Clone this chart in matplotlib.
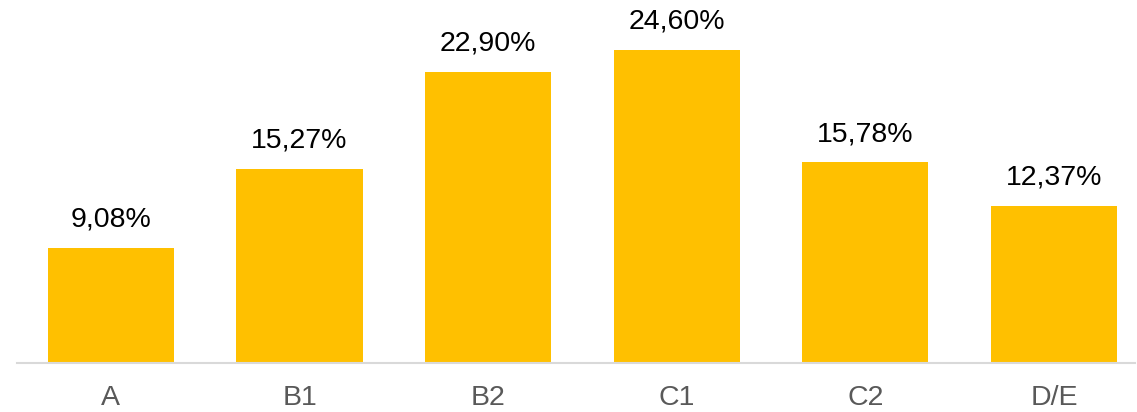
import matplotlib
matplotlib.use("Agg")
import matplotlib.pyplot as plt

plt.rcParams['font.family'] = ['Liberation Sans', 'DejaVu Sans']

levels = ['A', 'B1', 'B2', 'C1', 'C2', 'D/E']
shares = [9.08, 15.27, 22.90, 24.60, 15.78, 12.37]
labels = ['9,08%', '15,27%', '22,90%', '24,60%', '15,78%', '12,37%']

W, H = 1137, 412
fig = plt.figure(figsize=(W / 100, H / 100), dpi=100)
# axes placed in pixel terms: baseline at y=363, left edge at x=17
ax = fig.add_axes([17 / W, (H - 363) / H, (1135 - 17) / W, 363 / H])

x = list(range(len(levels)))
bars = ax.bar(x, shares, width=0.67, color='#FFC000', zorder=2)

for b, lab in zip(bars, labels):
    ax.annotate(lab, (b.get_x() + b.get_width() / 2, b.get_height()),
                xytext=(0, 11), textcoords='offset points',
                ha='center', va='bottom', fontsize=20.5, color='black')

ax.set_xlim(-0.498, 5.43)
ax.set_ylim(0, 363 / 12.72)
ax.set_xticks(x)
ax.set_xticklabels(levels, fontsize=20.5, color='#595959')
ax.tick_params(axis='x', length=0, pad=16)
ax.set_yticks([])
for s in ['top', 'right', 'left']:
    ax.spines[s].set_visible(False)
ax.spines['bottom'].set_color('#d9d9d9')
ax.spines['bottom'].set_linewidth(1.5)

fig.savefig('out.png', dpi=100)
